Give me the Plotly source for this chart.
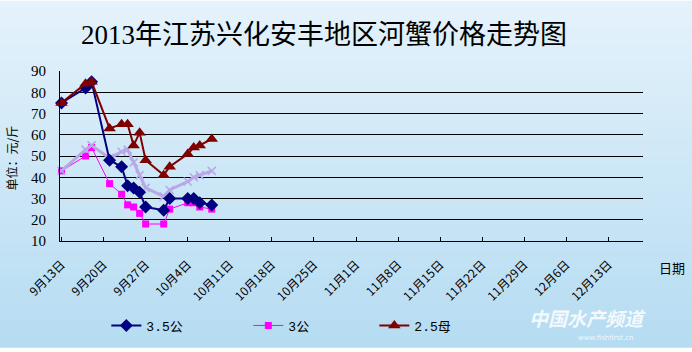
import plotly.graph_objects as go

# ---- data ----
dates = ["2013-09-13", "2013-09-17", "2013-09-18", "2013-09-21", "2013-09-23",
         "2013-09-24", "2013-09-25", "2013-09-26", "2013-09-27", "2013-09-30",
         "2013-10-01", "2013-10-04", "2013-10-05", "2013-10-06", "2013-10-08"]
s35_gong = [75, 82, 85, 48, 45, 36, 35, 33, 26, 24.5, 30, 30, 30, 28, 27]
s3_gong = [43, 50, 54, 37, 32, 27, 26, 23, 18, 18, 25, 28, 28, 26, 25]
s25_mu = [75, 84, 85, 63, 65, 65, 55, 61, 48, 41, 45, 51, 54, 55, 58]
s_other = [43, 53, 55, 49, 52, 53, 47, 41, 35, 31, 34, 38, 40, 41, 43]

tick_dates = ["2013-09-13", "2013-09-20", "2013-09-27", "2013-10-04", "2013-10-11",
              "2013-10-18", "2013-10-25", "2013-11-01", "2013-11-08", "2013-11-15",
              "2013-11-22", "2013-11-29", "2013-12-06", "2013-12-13"]
tick_text = ["9月13日", "9月20日", "9月27日", "10月4日", "10月11日", "10月18日",
             "10月25日", "11月1日", "11月8日", "11月15日", "11月22日", "11月29日",
             "12月6日", "12月13日"]
y_ticks = [10, 20, 30, 40, 50, 60, 70, 80, 90]

title = "2013年江苏兴化安丰地区河蟹价格走势图"
cjk = "Noto Sans CJK SC"

fig = go.Figure()

fig.add_trace(go.Scatter(x=dates, y=s3_gong, name="3公", mode="lines+markers",
                         line=dict(color="#ff00ff", width=1),
                         marker=dict(symbol="square", size=7, color="#ff00ff"),
                         legend="legend2", cliponaxis=False))
fig.add_trace(go.Scatter(x=dates, y=s_other, name="", mode="lines+markers",
                         line=dict(color="#b7a8e6", width=3),
                         marker=dict(symbol="x-thin", size=8,
                                     line=dict(color="#b7a8e6", width=1.5)),
                         showlegend=False, cliponaxis=False))
fig.add_trace(go.Scatter(x=dates, y=s35_gong, name="3.5公", mode="lines+markers",
                         line=dict(color="#000080", width=2),
                         marker=dict(symbol="diamond", size=10, color="#000080"),
                         legend="legend", cliponaxis=False))
fig.add_trace(go.Scatter(x=dates, y=s25_mu, name="2.5母", mode="lines+markers",
                         line=dict(color="#800000", width=2),
                         marker=dict(symbol="triangle-up", size=11, color="#800000"),
                         legend="legend3", cliponaxis=False))

# background gradient bands (paper coords, covering margins)
y_bot = -108 / 173
y_top = 1 + 71 / 173
x_left = -60 / 583
x_right = 1 + 49 / 583
n = 40
top_c = (0xe4, 0xf2, 0xfb)
bot_c = (0xb6, 0xdc, 0xf2)
shapes = []
for i in range(n):
    t = i / (n - 1)
    c = tuple(int(round(top_c[k] + (bot_c[k] - top_c[k]) * t)) for k in range(3))
    y1 = y_top - (y_top - y_bot) * i / n
    y0 = y_top - (y_top - y_bot) * (i + 1) / n
    shapes.append(dict(type="rect", xref="paper", yref="paper", x0=x_left, x1=x_right,
                       y0=y0 - 0.003, y1=y1 + 0.003, layer="below", line=dict(width=0),
                       fillcolor="rgb(%d,%d,%d)" % c))

leg_common = dict(orientation="h", yanchor="middle", xanchor="left", y=-0.497,
                  bgcolor="rgba(0,0,0,0)", itemwidth=30,
                  font=dict(family="Liberation Mono, " + cjk, size=13, color="#000"))

fig.update_layout(
    width=692, height=352,
    margin=dict(l=60, r=49, t=71, b=108),
    paper_bgcolor="rgba(0,0,0,0)",
    plot_bgcolor="rgba(0,0,0,0)",
    shapes=shapes,
    title=dict(text=title, x=324 / 692, xanchor="center", y=1 - 35 / 352, yanchor="middle",
               font=dict(family="Liberation Serif, " + cjk, size=27, color="#000")),
    xaxis=dict(type="date", range=["2013-09-12 18:00", "2013-12-18 18:00"],
               tickvals=tick_dates, ticktext=tick_text, tickangle=-45,
               ticks="inside", ticklen=4, tickcolor="#000", showgrid=False,
               showline=True, linecolor="#000", linewidth=1, zeroline=False,
               ticklabelstandoff=11,
               tickfont=dict(family=cjk, size=12, color="#000")),
    yaxis=dict(range=[10, 90], tickvals=y_ticks, showgrid=True, gridcolor="#000",
               gridwidth=1, showline=True, linecolor="#000", linewidth=1,
               zeroline=False, ticks="", ticklabelstandoff=10,
               tickfont=dict(family="Liberation Serif", size=15, color="#000")),
    legend=dict(x=(118 - 60) / 583 - 0.02, **leg_common),
    legend2=dict(x=(260 - 60) / 583 - 0.02, **leg_common),
    legend3=dict(x=(386 - 60) / 583 - 0.02, **leg_common),
    showlegend=True,
    annotations=[
        dict(text="单位：元/斤", textangle=-90, xref="paper", yref="paper",
             x=-49 / 583, y=(244 - 160) / 173, xanchor="center", yanchor="middle",
             showarrow=False, font=dict(family=cjk, size=12, color="#000")),
        dict(text="日期", xref="paper", yref="paper", x=(672 - 60) / 583,
             y=(244 - 271) / 173, xanchor="center", yanchor="middle",
             showarrow=False, font=dict(family=cjk, size=13, color="#000")),
        dict(text="<b><i>中国水产频道</i></b>",
             xref="paper", yref="paper",
             x=(587 - 60) / 583, y=(244 - 322) / 173, xanchor="center", yanchor="middle",
             showarrow=False,
             font=dict(family=cjk, size=19, color="rgba(255,255,255,0.85)")),
        dict(text="www.fishfirst.cn",
             xref="paper", yref="paper",
             x=(605 - 60) / 583, y=(244 - 343) / 173, xanchor="center", yanchor="middle",
             showarrow=False,
             font=dict(family="DejaVu Sans", size=7, color="rgba(255,255,255,0.85)")),
    ],
)

fig.write_html("out.html")
